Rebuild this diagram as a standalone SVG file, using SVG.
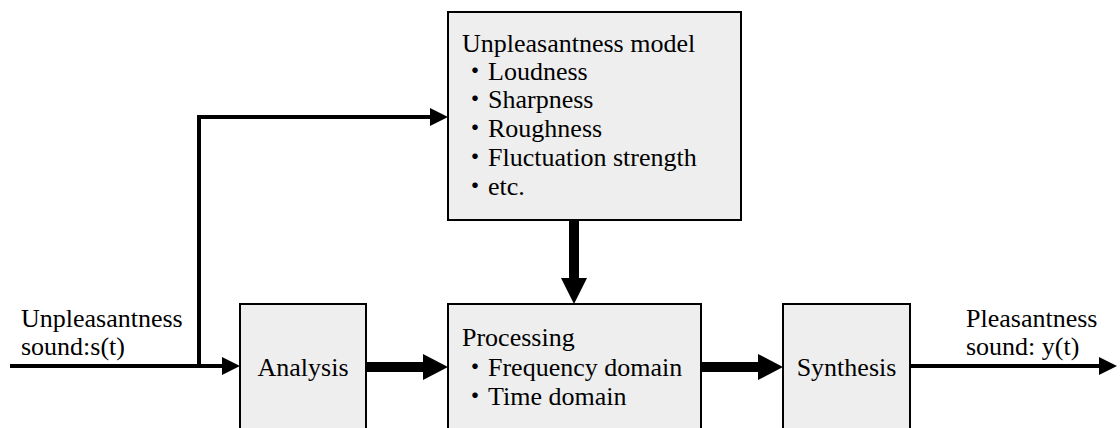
<svg xmlns="http://www.w3.org/2000/svg" width="1120" height="428" viewBox="0 0 1120 428">
<style>
.box{fill:#eeeeee;stroke:#000;stroke-width:2}
text{font-family:'Liberation Serif','Times New Roman','DejaVu Serif','Noto Sans CJK JP',serif;font-size:26px;fill:#000}
.thin{stroke:#000;stroke-width:4;fill:none}
.thick{stroke:#000;stroke-width:10;fill:none}
.head{fill:#000}
</style>
<rect width="1120" height="428" fill="#fff"/>
<g id="connectors">
<polyline class="thin" points="10,366 224,366"/>
<polygon class="head" points="222,357 240,366 222,375"/>
<polyline class="thin" points="199,368 199,117 432,117"/>
<polygon class="head" points="430,108 448,117 430,126"/>
<line class="thick" x1="366" y1="367" x2="425" y2="367"/>
<polygon class="head" points="423,354 448,367 423,380"/>
<line class="thick" x1="701" y1="367" x2="760" y2="367"/>
<polygon class="head" points="758,354 783,367 758,380"/>
<line class="thick" x1="574" y1="220" x2="574" y2="280"/>
<polygon class="head" points="561,278 574,304 587,278"/>
<polyline class="thin" points="910,366 1101,366"/>
<polygon class="head" points="1099,357 1117,366 1099,375"/>
</g>
<g id="model">
<rect class="box" x="448" y="12" width="293" height="208"/>
<text x="462" y="52">Unpleasantness model</text>
<text x="462" y="80">・Loudness</text>
<text x="462" y="108">・Sharpness</text>
<text x="462" y="137">・Roughness</text>
<text x="462" y="166">・Fluctuation strength</text>
<text x="462" y="195">・etc.</text>
</g>
<g id="analysis">
<rect class="box" x="240" y="304" width="126" height="140"/>
<text x="303" y="376" text-anchor="middle">Analysis</text>
</g>
<g id="processing">
<rect class="box" x="448" y="304" width="253" height="140"/>
<text x="462" y="346">Processing</text>
<text x="462" y="376">・Frequency domain</text>
<text x="462" y="405">・Time domain</text>
</g>
<g id="synthesis">
<rect class="box" x="783" y="304" width="127" height="140"/>
<text x="846.5" y="376" text-anchor="middle">Synthesis</text>
</g>
<g id="input-label">
<text x="21" y="327">Unpleasantness</text>
<text x="21" y="355">sound:s(t)</text>
</g>
<g id="output-label">
<text x="966" y="327">Pleasantness</text>
<text x="966" y="355">sound: y(t)</text>
</g>
</svg>
